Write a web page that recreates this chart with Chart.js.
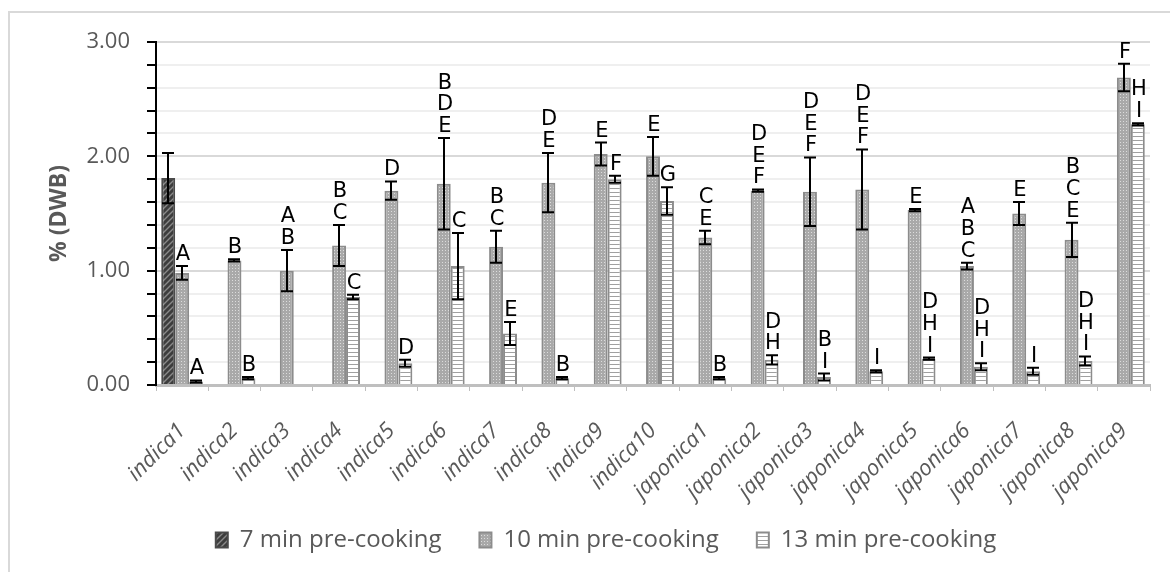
<!DOCTYPE html>
<html>
<head>
<meta charset="utf-8">
<script src="https://cdn.jsdelivr.net/npm/chart.js@4.4.1/dist/chart.umd.min.js"></script>
<style>
  html, body { margin: 0; padding: 0; background: #fff; overflow: hidden; }
  #wrap { position: relative; width: 1170px; height: 572px; }
  #frame { position: absolute; left: 8px; top: 11px; width: 1200px; height: 600px; border: 2px solid #d9d9d9; pointer-events: none; }
</style>
</head>
<body>
<div id="wrap">
  <canvas id="chart" width="1170" height="572"></canvas>
  <div id="frame"></div>
</div>
<script>
const categories = [
  "indica1", "indica2", "indica3", "indica4", "indica5", "indica6", "indica7", "indica8", "indica9", "indica10",
  "japonica1", "japonica2", "japonica3", "japonica4", "japonica5", "japonica6", "japonica7", "japonica8", "japonica9",
];

const min7 = [1.81, null, null, null, null, null, null, null, null, null, null, null, null, null, null, null, null, null, null];
const min10 = [0.98, 1.09, 1.0, 1.22, 1.7, 1.76, 1.21, 1.77, 2.02, 2.0, 1.29, 1.7, 1.69, 1.71, 1.53, 1.04, 1.5, 1.27, 2.69];
const min13 = [0.03, 0.06, null, 0.77, 0.19, 1.04, 0.45, 0.06, 1.8, 1.61, 0.06, 0.22, 0.07, 0.12, 0.23, 0.16, 0.12, 0.21, 2.28];

const err7 = [0.22, null, null, null, null, null, null, null, null, null, null, null, null, null, null, null, null, null, null];
const err10 = [0.06, 0.01, 0.18, 0.18, 0.08, 0.4, 0.14, 0.26, 0.1, 0.17, 0.06, 0.01, 0.3, 0.35, 0.01, 0.03, 0.1, 0.15, 0.12];
const err13 = [0.01, 0.01, null, 0.02, 0.03, 0.29, 0.1, 0.01, 0.03, 0.12, 0.01, 0.04, 0.03, 0.01, 0.01, 0.03, 0.03, 0.04, 0.01];

const letters7 = ["", "", "", "", "", "", "", "", "", "", "", "", "", "", "", "", "", "", ""];
const letters10 = ["A", "B", "AB", "BC", "D", "BDE", "BC", "DE", "E", "E", "CE", "DEF", "DEF", "DEF", "E", "ABC", "E", "BCE", "F"];
const letters13 = ["A", "B", "", "C", "D", "C", "E", "B", "F", "G", "B", "DH", "BI", "I", "DHI", "DHI", "I", "DHI", "HI"];

const seriesNames = ["7 min pre-cooking", "10 min pre-cooking", "13 min pre-cooking"];

const canvas = document.getElementById("chart");
const ctx = canvas.getContext("2d");

// small tiles used as fill patterns
function tile(w, h, draw) {
  const c = document.createElement("canvas");
  c.width = w;
  c.height = h;
  draw(c.getContext("2d"));
  return ctx.createPattern(c, "repeat");
}

const hatchDark = tile(6, 6, (g) => {
  g.fillStyle = "#3d3d3d";
  g.fillRect(0, 0, 6, 6);
  g.strokeStyle = "#8a8a8a";
  g.lineWidth = 1.4;
  g.beginPath();
  g.moveTo(-1, 7); g.lineTo(7, -1);
  g.moveTo(-4, 4); g.lineTo(4, -4);
  g.moveTo(2, 10); g.lineTo(10, 2);
  g.stroke();
});

const dotted = tile(3, 3, (g) => {
  g.fillStyle = "#a9a9a9";
  g.fillRect(0, 0, 3, 3);
  g.fillStyle = "#dcdcdc";
  g.fillRect(1, 1, 1, 1);
});

const striped = tile(4, 4, (g) => {
  g.fillStyle = "#ffffff";
  g.fillRect(0, 0, 4, 4);
  g.fillStyle = "#a0a0a0";
  g.fillRect(0, 0, 4, 1);
});

// error bars and letter labels
const errorBars = {
  id: "errorBars",
  afterDatasetsDraw(chart) {
    const c = chart.ctx;
    const y = chart.scales.y;
    c.save();
    chart.data.datasets.forEach((ds, di) => {
      const meta = chart.getDatasetMeta(di);
      meta.data.forEach((bar, i) => {
        const v = ds.data[i];
        const e = ds.errors[i];
        if (v == null) return;
        const x = Math.round(bar.x);
        const top = y.getPixelForValue(v + e);
        const bot = y.getPixelForValue(v - e);
        c.strokeStyle = "#000";
        c.lineWidth = 2;
        c.beginPath();
        c.moveTo(x, top); c.lineTo(x, bot);
        c.moveTo(x - 6, top); c.lineTo(x + 6, top);
        c.moveTo(x - 6, bot); c.lineTo(x + 6, bot);
        c.stroke();

        const txt = ds.letters[i];
        if (!txt) return;
        c.fillStyle = "#000";
        c.font = "21px 'DejaVu Sans'";
        c.textAlign = "center";
        c.textBaseline = "alphabetic";
        const base = top - 6;
        const n = txt.length;
        for (let k = 0; k < n; k++) {
          c.fillText(txt[k], x + 1, base - (n - 1 - k) * 21.7);
        }
      });
    });
    c.restore();
  },
};

// nudge the legend right and let the slanted labels run below the axis box
const tweakLayout = {
  id: "tweakLayout",
  afterLayout(chart) {
    chart.legend.left += 60;
    chart.scales.x.bottom = chart.height;
  },
};

new Chart(canvas, {
  type: "bar",

  data: {
    labels: categories,

    datasets: [
      {
        label: seriesNames[0],
        data: min7,
        errors: err7,
        letters: letters7,
        backgroundColor: hatchDark,
        borderColor: "#4a4a4a",
        borderWidth: 2,
      },
      {
        label: seriesNames[1],
        data: min10,
        errors: err10,
        letters: letters10,
        backgroundColor: dotted,
        borderColor: "#8c8c8c",
        borderWidth: 2,
      },
      {
        label: seriesNames[2],
        data: min13,
        errors: err13,
        letters: letters13,
        backgroundColor: striped,
        borderColor: "#8c8c8c",
        borderWidth: 2,
      },
    ],
  },

  options: {
    responsive: false,
    animation: false,
    categoryPercentage: 0.8,
    barPercentage: 1.0,
    layout: { padding: { top: 42, right: 18, bottom: 10, left: 0 } },

    plugins: {
      tooltip: { enabled: false },
      legend: {
        position: "bottom",
        labels: {
          boxWidth: 12,
          boxHeight: 15,
          padding: 38,
          color: "#595959",
          font: { family: "Open Sans", size: 24 },
        },
      },
    },

    scales: {
      x: {
        afterFit(s) { s.height = 105; },
        ticks: {
          autoSkip: false,
          minRotation: 45,
          maxRotation: 45,
          padding: 27,
          color: "#595959",
          font: { family: "Open Sans", size: 22, style: "italic" },
        },
        grid: { drawOnChartArea: false, offset: true, tickLength: 6, color: "#bfbfbf" },
        border: { color: "#bfbfbf", width: 3 },
      },
      y: {
        min: 0,
        max: 3,
        afterFit(s) { s.width = 156; },
        ticks: {
          stepSize: 0.2,
          autoSkip: false,
          padding: 17,
          color: "#595959",
          font: { family: "Open Sans", size: 22 },
          callback: (v) => (Math.abs(v - Math.round(v)) < 1e-6 ? Number(v).toFixed(2) : ""),
        },
        grid: {
          color: (c) => (Math.abs(c.tick.value - Math.round(c.tick.value)) < 1e-6 ? "#d9d9d9" : "#efefef"),
          lineWidth: 2,
          tickColor: "#000",
          tickLength: 9,
          tickWidth: 2,
        },
        border: { color: "#000", width: 2 },
        title: {
          display: true,
          text: "% (DWB)",
          color: "#595959",
          font: { family: "Open Sans", size: 23, weight: "bold" },
          padding: { top: 46, bottom: 0 },
        },
      },
    },
  },

  plugins: [errorBars, tweakLayout],
});
</script>
</body>
</html>
